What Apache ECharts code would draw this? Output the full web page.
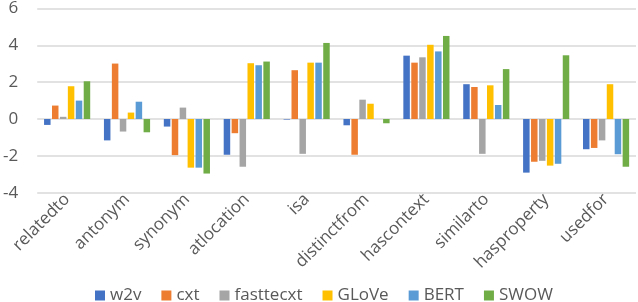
<!DOCTYPE html>
<html><head><meta charset="utf-8">
<script src="https://cdn.jsdelivr.net/npm/echarts@6/dist/echarts.min.js"></script>
<style>html,body{margin:0;padding:0;background:#fff;overflow:hidden}#c{width:638px;height:320px}</style>
</head><body><div id="c"></div>
<script>
const categories = ['relatedto','antonym','synonym','atlocation','isa','distinctfrom','hascontext','similarto','hasproperty','usedfor'];
const w2v       = [-0.32,-1.16,-0.41,-1.94,-0.03,-0.34,3.44,1.89,-2.91,-1.64];
const cxt       = [0.73,3.01,-1.96,-0.77,2.65,-1.94,3.06,1.74,-2.32,-1.57];
const fasttecxt = [0.12,-0.68,0.62,-2.59,-1.89,1.05,3.35,-1.89,-2.27,-1.16];
const glove     = [1.78,0.35,-2.64,3.03,3.06,0.83,4.03,1.83,-2.53,1.89];
const bert      = [1.00,0.94,-2.64,2.92,3.06,0,3.67,0.76,-2.43,-1.91];
const swow      = [2.05,-0.72,-2.96,3.12,4.13,-0.23,4.51,2.71,3.46,-2.59];
const yTicks = {min:-4, max:6, interval:2};

const names = ['w2v','cxt','fasttecxt','GLoVe','BERT','SWOW'];
const colors = ['#4472C4','#ED7D31','#A5A5A5','#FFC000','#5B9BD5','#70AD47'];
const datas = [w2v,cxt,fasttecxt,glove,bert,swow];
const font = '"Open Sans", "Noto Sans", sans-serif';
const chart = echarts.init(document.getElementById('c'));
chart.setOption({
  animation:false,
  color: colors,
  grid:{left:35,right:2,top:6,bottom:127.3,containLabel:false},
  legend:{top:287,left:95,padding:0,itemWidth:10,itemHeight:10,itemGap:20,icon:'rect',
    textStyle:{color:'#595959',fontSize:17,fontFamily:font,padding:[0,0,0,0]},data:names},
  xAxis:{type:'category',data:categories,
    axisLine:{show:false,onZero:false},axisTick:{show:false},
    axisLabel:{rotate:45,interval:0,margin:4,color:'#595959',fontSize:17,fontFamily:font}},
  yAxis:{type:'value',min:yTicks.min,max:yTicks.max,interval:yTicks.interval,
    axisLine:{show:false},axisTick:{show:false},
    axisLabel:{color:'#595959',fontSize:17,fontFamily:font,margin:19},
    splitLine:{lineStyle:{color:'#D9D9D9',width:1.5}}},
  series: names.map((n,i)=>({name:n,type:'bar',data:datas[i],barWidth:6.5,barGap:'22%'}))
});
</script></body></html>
